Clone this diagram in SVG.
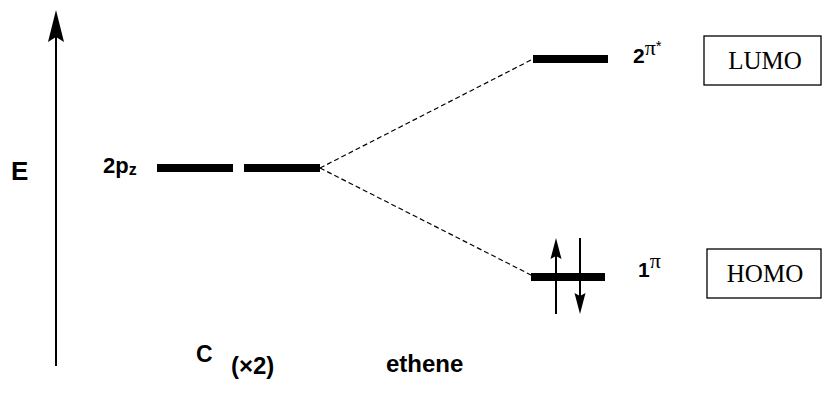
<svg xmlns="http://www.w3.org/2000/svg" width="822" height="409" viewBox="0 0 822 409">
<style>
.lvl{fill:#000}
.lbl{font-family:"Liberation Sans",Arial,sans-serif;font-weight:bold;fill:#000}
.ser{font-family:"Liberation Serif","Times New Roman",serif;fill:#000}
.box{fill:#fff;stroke:#000;stroke-width:1.3}
.dash{stroke:#000;stroke-width:1.2;stroke-dasharray:5,3;fill:none}
.ln{stroke:#000;stroke-width:2;fill:none}
.head{fill:#000}
</style>
<rect width="822" height="409" fill="#fff"/>
<g id="axis">
<line x1="56" y1="366" x2="56" y2="32" class="ln"/>
<path d="M56,10 L64,42 L56,37 L48,42 Z" class="head"/>
<text x="11" y="180" class="lbl" font-size="26">E</text>
</g>
<g id="connectors">
<line x1="320" y1="168" x2="533" y2="59" class="dash"/>
<line x1="320" y1="168" x2="533" y2="276" class="dash"/>
</g>
<g id="c2pz">
<rect x="157" y="164" width="76" height="8" class="lvl"/>
<rect x="244" y="164" width="76" height="8" class="lvl"/>
<text x="103" y="173" class="lbl" font-size="22">2p<tspan font-size="16" dy="2">z</tspan></text>
</g>
<g id="lumo">
<rect x="533" y="55" width="75" height="8" class="lvl"/>
<text x="633" y="63" class="lbl" font-size="21">2<tspan class="ser" font-weight="normal" font-size="22" dy="-8">π</tspan><tspan font-weight="normal" font-size="15" dy="-4">*</tspan></text>
</g>
<g id="lumobox">
<rect x="704" y="36" width="117" height="49" class="box"/>
<text x="765" y="69" class="ser" font-size="25" text-anchor="middle">LUMO</text>
</g>
<g id="homo">
<rect x="531" y="273" width="74" height="8" class="lvl"/>
<line x1="556" y1="314" x2="556" y2="252" class="ln"/>
<path d="M556,238 L561.5,259 L556,256 L550.5,259 Z" class="head"/>
<line x1="580" y1="238" x2="580" y2="300" class="ln"/>
<path d="M580,314 L585.5,293 L580,296 L574.5,293 Z" class="head"/>
<text x="638" y="277" class="lbl" font-size="21">1<tspan class="ser" font-weight="normal" font-size="22" dy="-9">π</tspan></text>
</g>
<g id="homobox">
<rect x="707" y="249" width="114" height="49" class="box"/>
<text x="765" y="282" class="ser" font-size="25" text-anchor="middle">HOMO</text>
</g>
<g id="labels">
<text x="196" y="362" class="lbl" font-size="23">C</text>
<text x="231" y="374" class="lbl" font-size="24">(×2)</text>
<text x="386" y="372" class="lbl" font-size="24">ethene</text>
</g>
</svg>
